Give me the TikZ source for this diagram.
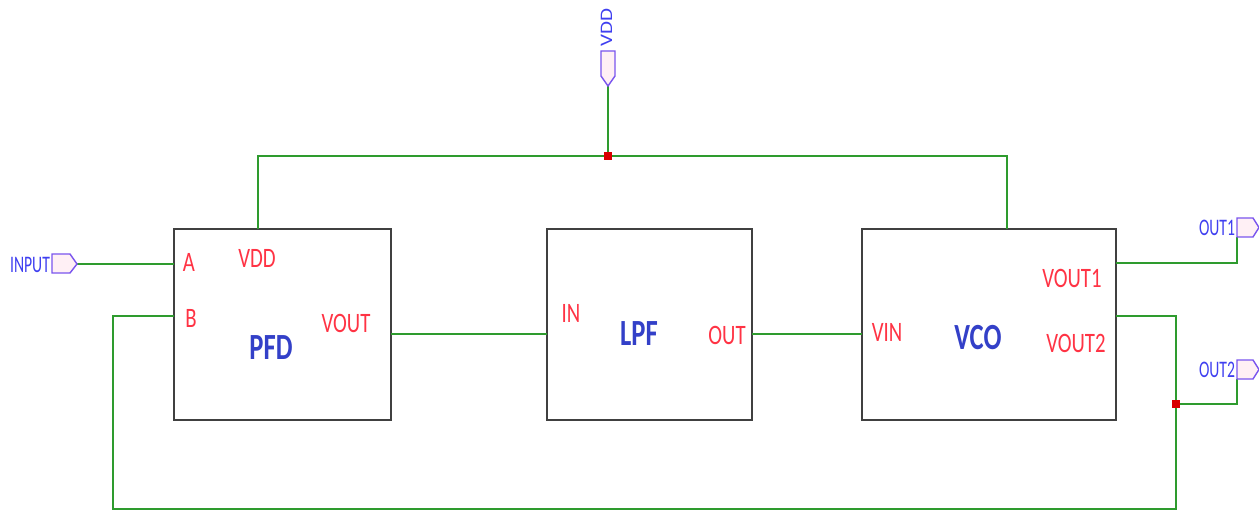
\documentclass[tikz,border=0pt]{standalone}
\usepackage{fontspec}
\usepackage{graphicx}
\setmainfont{Carlito}
\definecolor{wire}{HTML}{2E9B2E}
\definecolor{pinred}{HTML}{FF3344}
\definecolor{blk}{HTML}{3340C8}
\definecolor{portblue}{HTML}{3F3FF0}
\definecolor{portline}{HTML}{7A55EE}
\definecolor{portfill}{HTML}{FFF0F5}
\definecolor{boxline}{HTML}{404040}
\newcommand{\pinlbl}[1]{\scalebox{0.74}[1]{\fontsize{16}{16}\selectfont #1}}
\newcommand{\blklbl}[1]{\scalebox{0.72}[1]{\fontsize{21}{21}\selectfont\bfseries #1}}
\newcommand{\portlbl}[1]{\scalebox{0.66}[1]{\fontsize{13.5}{13.5}\selectfont #1}}
\begin{document}
\begin{tikzpicture}[x=0.02cm,y=-0.02cm,
  blockbox/.style={draw=boxline,line width=1.1pt,fill=white},
  wireline/.style={draw=wire,line width=0.9pt},
  pin/.style={inner sep=0pt,text=pinred},
  blkname/.style={inner sep=0pt,text=blk},
  portname/.style={inner sep=0pt,text=portblue},
  portshape/.style={draw=portline,fill=portfill,line width=0.8pt,line join=miter},
  junction/.style={fill=red!85!black,draw=none,minimum size=4pt,inner sep=0pt}]
\useasboundingbox (0,0) rectangle (1259,510);
% blocks
\draw[blockbox] (174,229) rectangle (391,420);
\draw[blockbox] (547,229) rectangle (752,420);
\draw[blockbox] (862,229) rectangle (1116,420);
% named coordinates
\coordinate (vddport) at (608,86);
\coordinate (vddj) at (608,156);
\coordinate (vddl) at (258,156);
\coordinate (vddr) at (1007,156);
\coordinate (pfdvdd) at (258,229);
\coordinate (vcovdd) at (1007,229);
\coordinate (inport) at (77,264);
\coordinate (pfdA) at (174,264);
\coordinate (pfdB) at (174,316);
\coordinate (fbA) at (113,316);
\coordinate (fbB) at (113,509);
\coordinate (fbC) at (1176,509);
\coordinate (fbj) at (1176,404);
\coordinate (vout2) at (1116,316);
\coordinate (vout2c) at (1176,316);
\coordinate (vout1) at (1116,263);
\coordinate (out1c) at (1237,263);
\coordinate (out1p) at (1237,237);
\coordinate (out2c) at (1237,404);
\coordinate (out2p) at (1237,379);
\coordinate (pfdout) at (391,334);
\coordinate (lpfin) at (547,334);
\coordinate (lpfout) at (752,334);
\coordinate (vcoin) at (862,334);
% wires
\draw[wireline] (vddport) -- (vddj);
\draw[wireline] (pfdvdd) -- (vddl) -- (vddr) -- (vcovdd);
\draw[wireline] (inport) -- (pfdA);
\draw[wireline] (pfdB) -- (fbA) -- (fbB) -- (fbC) -- (vout2c) -- (vout2);
\draw[wireline] (fbj) -- (out2c) -- (out2p);
\draw[wireline] (vout1) -- (out1c) -- (out1p);
\draw[wireline] (pfdout) -- (lpfin);
\draw[wireline] (lpfout) -- (vcoin);
% junctions
\node[junction] (j1) at (vddj) {};
\node[junction] (j2) at (fbj) {};
% ports
\draw[portshape] (601,51) -- (615,51) -- (615,76) -- (608,86) -- (601,76) -- cycle;
\draw[portshape] (52,254) -- (70,254) -- (77,264) -- (70,273) -- (52,273) -- cycle;
\draw[portshape] (1237,218) -- (1253,218) -- (1259,227.5) -- (1253,237) -- (1237,237) -- cycle;
\draw[portshape] (1237,360) -- (1253,360) -- (1259,369.5) -- (1253,379) -- (1237,379) -- cycle;
\node[portname,rotate=90] (tvdd) at (606.5,27.5) {\scalebox{1.2}[1]{\fontsize{10}{10}\selectfont VDD}};
\node[portname] (tinput) at (30,265) {\portlbl{INPUT}};
\node[portname] (tout1) at (1217,228) {\portlbl{OUT1}};
\node[portname] (tout2) at (1217,370) {\portlbl{OUT2}};
% pin labels
\node[pin] (pA) at (189,262) {\pinlbl{A}};
\node[pin] (pVDD) at (257,258) {\pinlbl{VDD}};
\node[pin] (pB) at (191,318) {\pinlbl{B}};
\node[pin] (pVOUT) at (346,323) {\pinlbl{VOUT}};
\node[pin] (pIN) at (571,313) {\pinlbl{IN}};
\node[pin] (pOUT) at (727,335) {\pinlbl{OUT}};
\node[pin] (pVIN) at (887,332) {\pinlbl{VIN}};
\node[pin] (pVOUT1) at (1072,278) {\pinlbl{VOUT1}};
\node[pin] (pVOUT2) at (1076,343) {\pinlbl{VOUT2}};
% block names
\node[blkname] (nPFD) at (271,348) {\blklbl{PFD}};
\node[blkname] (nLPF) at (639,334) {\blklbl{LPF}};
\node[blkname] (nVCO) at (978,338) {\blklbl{VCO}};
\end{tikzpicture}
\end{document}
